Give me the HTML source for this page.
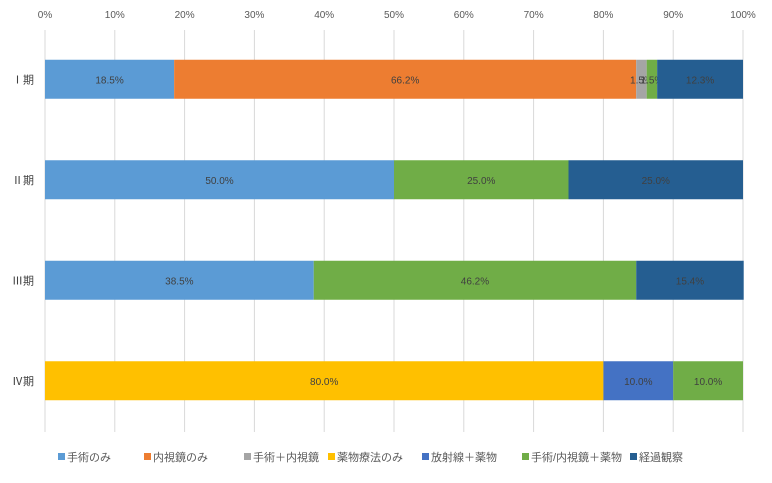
<!DOCTYPE html>
<html><head><meta charset="utf-8"><style>
body{margin:0;background:#fff;width:772px;height:478px;overflow:hidden;font-family:"Liberation Sans","Noto Sans CJK JP",sans-serif}
svg text{font-family:"Liberation Sans","Noto Sans CJK JP",sans-serif}
</style></head><body>
<svg id="chart" width="772" height="478" xmlns="http://www.w3.org/2000/svg"></svg>
<script>
const categories = ["Ⅰ期","Ⅱ期","Ⅲ期","Ⅳ期"];
const seriesNames = ["手術のみ","内視鏡のみ","手術＋内視鏡","薬物療法のみ","放射線＋薬物","手術/内視鏡＋薬物","経過観察"];
const seriesColors = ["#5B9BD5","#ED7D31","#A5A5A5","#FFC000","#4472C4","#70AD47","#255E91"];
const s1 = [18.5,50.0,38.5,0];
const s2 = [66.2,0,0,0];
const s3 = [1.5,0,0,0];
const s4 = [0,0,0,80.0];
const s5 = [0,0,0,10.0];
const s6 = [1.5,25.0,46.2,10.0];
const s7 = [12.3,25.0,15.4,0];
const series = [s1,s2,s3,s4,s5,s6,s7];
const tickLabels = ["0%","10%","20%","30%","40%","50%","60%","70%","80%","90%","100%"];
const legendX = [61,147,247,331,425,525,633];

const svg = document.getElementById('chart');
const NS = "http://www.w3.org/2000/svg";
const x0 = 45, x1 = 743, yTop = 30, yBot = 432;
const xs = v => x0 + (x1 - x0) * v / 100;
const bandH = (yBot - yTop) / categories.length;
const yc = i => yTop + bandH * (i + 0.5) - 1;
const barH = 39;
function mk(tag, attrs, txt){const e=document.createElementNS(NS,tag);for(const k in attrs)e.setAttribute(k,attrs[k]);if(txt!==undefined)e.textContent=txt;svg.appendChild(e);return e;}

tickLabels.forEach((t,i)=>{
  const x = xs(i*10);
  const g = mk('line',{x1:x,x2:x,y1:yTop,y2:yBot,stroke:'#d9d9d9','stroke-width':1});
  
  
  const tx = mk('text',{x:x,y:18,'font-size':10,fill:'#595959','text-anchor':'middle'},t);
  
  
});

categories.forEach((c,i)=>{
  const t = mk('text',{x:34,y:yc(i)+4,'font-size':11,fill:'#404040','text-anchor':'end'},c);
  
  
  let acc = 0;
  series.forEach((s,j)=>{
    const v = s[i];
    if(v<=0) return;
    const r = mk('rect',{x:xs(acc),y:yc(i)-barH/2,width:xs(acc+v)-xs(acc),height:barH,fill:seriesColors[j]});
    
    
    const lb = mk('text',{x:(xs(acc)+xs(acc+v))/2,y:yc(i)+4,'font-size':10,fill:'#404040','text-anchor':'middle'},v.toFixed(1)+'%');
    
    
    acc += v;
  });
});

seriesNames.forEach((n,j)=>{
  const r = mk('rect',{x:legendX[j]-3,y:453,width:7,height:7,fill:seriesColors[j]});
  
  
  const t = mk('text',{x:legendX[j]+6,y:461,'font-size':11,fill:'#595959'},n);
  
  
});
</script>
</body></html>
